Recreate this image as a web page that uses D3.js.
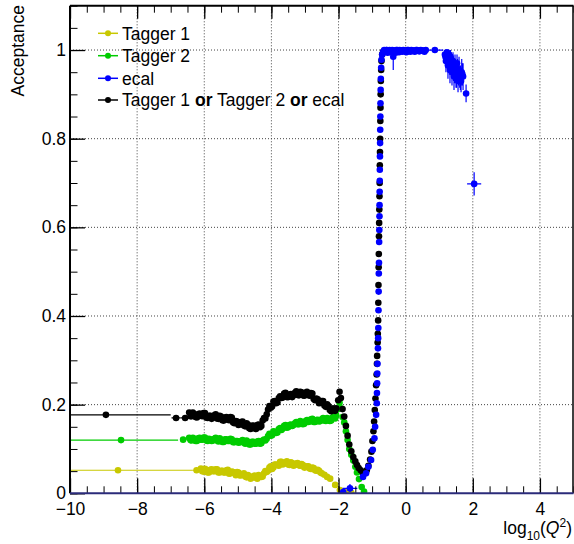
<!DOCTYPE html>
<html><head><meta charset="utf-8">
<script src="https://cdn.jsdelivr.net/npm/d3@7"></script>
<style>
body{margin:0;background:#fff}
svg{display:block}
text{font-family:"Liberation Sans",Arial,Helvetica,sans-serif}
</style>
</head><body>
<svg id="c" width="574" height="544"></svg>
<script>
// ---- axis ticks / labels ----
const xTicks = [-10, -8, -6, -4, -2, 0, 2, 4];
const xTickLabels = ["\u221210", "\u22128", "\u22126", "\u22124", "\u22122", "0", "2", "4"];
const yTicks = [0, 0.2, 0.4, 0.6, 0.8, 1];
const yTickLabels = ["0", "0.2", "0.4", "0.6", "0.8", "1"];
const seriesNames = ["Tagger 1", "Tagger 2", "ecal", "Tagger 1 or Tagger 2 or ecal"];

// ---- data: [x, y, exLow, exHigh, eyLow, eyHigh] ----
const tagger1 = [
  [-8.57,0.052,2.23,2.23],[-6.23,0.052,0.11,0.11],
  [-6.10,0.056],[-6.02,0.049],[-5.94,0.053],[-5.86,0.047],[-5.78,0.054],[-5.70,0.050],
  [-5.62,0.054],[-5.54,0.047],[-5.46,0.051],[-5.38,0.047],[-5.30,0.053],[-5.22,0.045],
  [-5.14,0.048],[-5.06,0.041],[-4.98,0.047],[-4.90,0.041],[-4.82,0.045],[-4.74,0.036],
  [-4.66,0.039],[-4.58,0.035],[-4.50,0.040],[-4.42,0.033],[-4.34,0.039],[-4.26,0.038],
  [-4.18,0.050],[-4.10,0.051],[-4.02,0.061],[-3.94,0.058],[-3.86,0.065],[-3.78,0.062],
  [-3.70,0.071],[-3.62,0.067],[-3.54,0.072],[-3.46,0.064],[-3.38,0.068],[-3.30,0.064],
  [-3.22,0.068],[-3.14,0.062],[-3.06,0.064],[-2.98,0.059],[-2.90,0.061],[-2.82,0.055],
  [-2.74,0.057],[-2.66,0.051],[-2.58,0.051],[-2.50,0.045],[-2.42,0.042],[-2.34,0.037],
  [-2.25,0.033],[-2.10,0.019],[-1.96,0.0075],[-1.86,0.004],[-1.76,0.002],[-1.62,0.001],
  [-6.06,0.050],[-5.98,0.055],[-5.90,0.047],[-5.82,0.053],[-5.74,0.050],[-5.66,0.054],
  [-5.58,0.047],[-5.50,0.051],[-5.42,0.047],[-5.34,0.052],[-5.26,0.044],[-5.18,0.049],
  [-5.10,0.045],[-5.02,0.048],[-4.94,0.040],[-4.86,0.042],[-4.78,0.038],[-4.70,0.041],
  [-4.62,0.033],[-4.54,0.038],[-4.46,0.035],[-4.38,0.041],[-4.30,0.037],[-4.22,0.045],
  [-4.14,0.048],[-4.06,0.058],[-3.98,0.055],[-3.90,0.065],[-3.82,0.064],[-3.74,0.071],
  [-3.66,0.065],[-3.58,0.069],[-3.50,0.065],[-3.42,0.070],[-3.34,0.062],[-3.26,0.067],
  [-3.18,0.063],[-3.10,0.066],[-3.02,0.058],[-2.94,0.061],[-2.86,0.056],[-2.78,0.058],
  [-2.70,0.052],[-2.62,0.053],[-2.54,0.047]
];
const tagger2 = [
  [-8.48,0.120,1.70,1.70],[-6.63,0.121,0.09,0.09],
  [-6.45,0.125],[-6.38,0.119],[-6.30,0.123],[-6.22,0.118],[-6.14,0.125],[-6.06,0.121],
  [-5.98,0.126],[-5.90,0.118],[-5.82,0.122],[-5.74,0.119],[-5.66,0.125],[-5.58,0.117],
  [-5.50,0.121],[-5.42,0.116],[-5.34,0.122],[-5.26,0.118],[-5.18,0.122],[-5.10,0.115],
  [-5.02,0.118],[-4.94,0.115],[-4.86,0.120],[-4.78,0.112],[-4.70,0.116],[-4.62,0.110],
  [-4.54,0.116],[-4.46,0.112],[-4.38,0.118],[-4.30,0.113],[-4.22,0.121],[-4.14,0.123],
  [-4.06,0.134],[-3.98,0.131],[-3.90,0.139],[-3.82,0.137],[-3.74,0.147],[-3.66,0.146],
  [-3.58,0.154],[-3.50,0.149],[-3.42,0.155],[-3.34,0.154],[-3.26,0.161],[-3.18,0.156],
  [-3.10,0.161],[-3.02,0.157],[-2.94,0.165],[-2.86,0.162],[-2.78,0.168],[-2.70,0.161],
  [-2.62,0.166],[-2.54,0.163],[-2.46,0.170],[-2.38,0.163],[-2.30,0.168],[-2.22,0.164],
  [-2.14,0.173],[-2.07,0.176],[-2.01,0.190],[-1.97,0.204],[-1.93,0.192],[-1.88,0.172],
  [-1.83,0.160],[-1.78,0.140],[-1.73,0.120],[-1.68,0.100],[-1.62,0.087],[-1.56,0.074],
  [-1.50,0.060],[-1.45,0.047],[-1.39,0.032],[-1.31,0.014],[-1.24,0.004],
  [-6.41,0.120],[-6.34,0.125],[-6.26,0.118],[-6.18,0.124],[-6.10,0.121],[-6.02,0.126],
  [-5.94,0.119],[-5.86,0.123],[-5.78,0.118],[-5.70,0.123],[-5.62,0.119],[-5.54,0.124],
  [-5.46,0.116],[-5.38,0.122],[-5.30,0.118],[-5.22,0.123],[-5.14,0.115],[-5.06,0.118],
  [-4.98,0.114],[-4.90,0.118],[-4.82,0.114],[-4.74,0.119],[-4.66,0.110],[-4.58,0.116],
  [-4.50,0.112],[-4.42,0.117],[-4.34,0.112],[-4.26,0.119],[-4.18,0.119],[-4.10,0.129],
  [-4.02,0.130],[-3.94,0.140],[-3.86,0.136],[-3.78,0.145],[-3.70,0.143],[-3.62,0.152],
  [-3.54,0.148],[-3.46,0.154],[-3.38,0.152],[-3.30,0.158],[-3.22,0.156],[-3.14,0.163],
  [-3.06,0.156],[-2.98,0.163],[-2.90,0.161],[-2.82,0.167],[-2.74,0.161],[-2.66,0.165],
  [-2.58,0.162],[-2.50,0.167],[-2.42,0.164],[-2.34,0.170],[-2.26,0.163],[-2.18,0.171],
  [-2.10,0.169]
];
const ecal = [
  [-1.86,0.003,0.08,0.08],[-1.66,0.011,0.22,0.22,0.008,0.010],
  [-1.27,0.037],[-1.18,0.045],[-1.11,0.060],[-1.03,0.075],[-0.98,0.098],[-0.93,0.124],
  [-0.91,0.150],[-0.88,0.177],[-0.86,0.203],[-0.855,0.226],[-0.85,0.248],[-0.845,0.270],
  [-0.84,0.292],[-0.825,0.327],[-0.82,0.350],[-0.815,0.373],[-0.81,0.413],[-0.805,0.455],
  [-0.80,0.496],[-0.795,0.520],[-0.79,0.567],[-0.785,0.594],[-0.78,0.625],[-0.778,0.650],
  [-0.775,0.680],[-0.772,0.705],[-0.77,0.730],[-0.766,0.760],[-0.762,0.790],[-0.758,0.820],
  [-0.754,0.850],[-0.75,0.880],[-0.745,0.910],[-0.74,0.935],[-0.73,0.960],[-0.72,0.978],
  [-0.70,0.990],[-0.67,0.996],
  [-0.64,1.0],[-0.60,0.997],[-0.56,1.0],[-0.52,0.996],[-0.48,1.0],[-0.44,0.998],[-0.40,1.0],
  [-0.37,0.985,0.02,0.02,0.030,0.015],[-0.33,0.999],[-0.28,1.0],[-0.23,0.997],[-0.18,1.0],
  [-0.13,0.998],[-0.07,1.0],[-0.01,0.997],[0.05,1.0],[0.11,0.998],[0.17,1.0],[0.24,0.999],
  [0.31,1.0],[0.38,0.998],[0.45,1.0],[0.52,0.999],[0.60,1.0],[0.87,1.0,0.25,0.25],
  [-0.62,0.996],[-0.58,1.0],[-0.54,0.994],[-0.50,0.999],[-0.46,0.995],[-0.42,0.999],
  [-0.35,0.997],[-0.30,0.994],[-0.25,1.0],[-0.20,0.995],[-0.15,0.999],[-0.10,0.996],
  [-0.04,0.999],[0.02,0.995],[0.08,1.0],[0.14,0.996],[0.20,0.999],[0.27,0.996],
  [0.34,1.0],[0.41,0.997],[0.48,0.999],[0.56,0.996],
  [1.17,0.990,0.015,0.015,0.020,0.010],[1.20,0.975,0.015,0.015,0.025,0.020],
  [1.23,0.995,0.015,0.015,0.010,0.005],[1.26,0.965,0.015,0.015,0.030,0.025],
  [1.29,0.990,0.015,0.015,0.015,0.010],[1.32,0.955,0.015,0.015,0.030,0.030],
  [1.35,0.980,0.015,0.015,0.020,0.015],[1.38,0.950,0.015,0.015,0.030,0.030],
  [1.41,0.975,0.015,0.015,0.025,0.020],[1.44,0.940,0.015,0.015,0.030,0.030],
  [1.47,0.965,0.015,0.015,0.030,0.025],[1.50,0.945,0.015,0.015,0.030,0.030],
  [1.53,0.970,0.015,0.015,0.030,0.020],[1.56,0.930,0.015,0.015,0.025,0.030],
  [1.59,0.955,0.015,0.015,0.030,0.030],[1.63,0.935,0.02,0.02,0.025,0.030],
  [1.67,0.950,0.02,0.02,0.030,0.030],[1.71,0.940,0.02,0.02,0.030,0.030],
  [1.185,0.985,0,0,0.020,0.015],[1.215,0.990,0,0,0.015,0.010],[1.245,0.980,0,0,0.020,0.015],
  [1.275,0.975,0,0,0.025,0.020],[1.305,0.970,0,0,0.025,0.020],[1.335,0.985,0,0,0.020,0.015],
  [1.365,0.965,0,0,0.025,0.020],[1.395,0.960,0,0,0.025,0.020],[1.425,0.955,0,0,0.025,0.025],
  [1.455,0.950,0,0,0.025,0.025],[1.485,0.960,0,0,0.025,0.020],[1.515,0.940,0,0,0.025,0.025],
  [1.545,0.955,0,0,0.025,0.025],[1.575,0.945,0,0,0.025,0.025],[1.61,0.940,0,0,0.025,0.025],
  [1.65,0.930,0,0,0.025,0.025],[1.69,0.945,0,0,0.025,0.025],
  [1.80,0.902,0.03,0.03,0.020,0.020],[2.04,0.698,0.21,0.21,0.026,0.026]
];
const anyTagger = [
  [-8.93,0.177,1.93,1.93],[-6.84,0.170,0.135,0.135],[-6.57,0.170,0.135,0.135],
  [-6.45,0.182],[-6.38,0.174],[-6.30,0.179],[-6.22,0.171],[-6.14,0.180],[-6.06,0.174],
  [-5.98,0.181],[-5.90,0.170],[-5.82,0.175],[-5.74,0.171],[-5.66,0.178],[-5.58,0.168],
  [-5.50,0.173],[-5.42,0.164],[-5.34,0.172],[-5.26,0.165],[-5.18,0.171],[-5.10,0.158],
  [-5.02,0.162],[-4.94,0.156],[-4.86,0.162],[-4.78,0.151],[-4.70,0.155],[-4.62,0.145],
  [-4.54,0.153],[-4.46,0.145],[-4.38,0.155],[-4.30,0.152],[-4.22,0.170],[-4.14,0.178],
  [-4.06,0.197],[-3.98,0.196],[-3.90,0.208],[-3.82,0.205],[-3.74,0.219],[-3.66,0.216],
  [-3.58,0.227],[-3.50,0.217],[-3.42,0.224],[-3.34,0.221],[-3.26,0.230],[-3.18,0.221],
  [-3.10,0.228],[-3.02,0.220],[-2.94,0.229],[-2.86,0.220],[-2.78,0.225],[-2.70,0.210],
  [-2.62,0.212],[-2.54,0.204],[-2.46,0.208],[-2.38,0.195],[-2.30,0.197],[-2.22,0.185],
  [-2.14,0.191],[-2.07,0.192],[-2.01,0.210],[-1.97,0.229],[-1.93,0.215],[-1.88,0.190],
  [-1.83,0.173],[-1.78,0.152],[-1.73,0.130],[-1.68,0.110],[-1.62,0.095],[-1.56,0.082],
  [-1.50,0.072],[-1.45,0.064],[-1.40,0.057],[-1.34,0.052],[-1.28,0.047],[-1.22,0.046],
  [-1.16,0.052],[-1.11,0.062],[-1.06,0.076],[-1.02,0.094],[-0.99,0.118],[-0.96,0.140],
  [-0.94,0.162],[-0.92,0.188],[-0.90,0.214],[-0.88,0.244],[-0.865,0.268],[-0.855,0.292],
  [-0.85,0.310],[-0.835,0.340],[-0.83,0.360],[-0.82,0.390],[-0.815,0.430],[-0.81,0.470],
  [-0.805,0.510],[-0.80,0.540],[-0.795,0.580],[-0.79,0.610],[-0.785,0.640],[-0.78,0.670],
  [-0.775,0.700],[-0.77,0.740],[-0.765,0.770],[-0.76,0.800],[-0.755,0.840],[-0.75,0.870],
  [-0.745,0.900],[-0.74,0.930],[-0.73,0.955],[-0.72,0.975],[-0.70,0.990],[-0.67,0.996],
  [-6.41,0.174],[-6.34,0.182],[-6.26,0.172],[-6.18,0.178],[-6.10,0.175],[-6.02,0.181],
  [-5.94,0.171],[-5.86,0.175],[-5.78,0.168],[-5.70,0.176],[-5.62,0.169],[-5.54,0.175],
  [-5.46,0.165],[-5.38,0.171],[-5.30,0.166],[-5.22,0.172],[-5.14,0.160],[-5.06,0.163],
  [-4.98,0.154],[-4.90,0.161],[-4.82,0.153],[-4.74,0.158],[-4.66,0.147],[-4.58,0.152],
  [-4.50,0.147],[-4.42,0.154],[-4.34,0.149],[-4.26,0.164],[-4.18,0.169],[-4.10,0.189],
  [-4.02,0.193],[-3.94,0.207],[-3.86,0.203],[-3.78,0.215],[-3.70,0.215],[-3.62,0.225],
  [-3.54,0.217],[-3.46,0.223],[-3.38,0.217],[-3.30,0.227],[-3.22,0.222],[-3.14,0.229],
  [-3.06,0.221],[-2.98,0.227],[-2.90,0.222],[-2.82,0.226],[-2.74,0.213],[-2.66,0.214],
  [-2.58,0.203],[-2.50,0.208],[-2.42,0.198],[-2.34,0.201],[-2.26,0.188],[-2.18,0.191],
  [-2.10,0.186]
];

const colors = {t1: "#c8c800", t2: "#00cc00", ecal: "#0000ff", any: "#000000"};

// ---- drawing ----
const svg = d3.select("#c");
const x = d3.scaleLinear().domain([-10, 5]).range([70, 573.5]);
const y = d3.scaleLinear().domain([0, 1.1]).range([493.3, 5.7]);
const fx0 = x(-10), fx1 = x(5), fy0 = y(0), fy1 = y(1.1);
const R = 3.3;

svg.append("defs").append("clipPath").attr("id", "clip")
  .append("rect").attr("x", fx0).attr("y", fy1).attr("width", fx1 - fx0).attr("height", fy0 - fy1);

// grid
const grid = svg.append("g");
grid.selectAll("line.gx").data(xTicks.filter(d => d > -10)).join("line")
  .attr("x1", d => x(d)).attr("x2", d => x(d)).attr("y1", fy0).attr("y2", fy1)
  .attr("stroke", "#444").attr("stroke-width", 1).attr("stroke-dasharray", "1,2");
grid.selectAll("line.gy").data(yTicks.filter(d => d > 0)).join("line")
  .attr("y1", d => y(d)).attr("y2", d => y(d)).attr("x1", fx0).attr("x2", fx1)
  .attr("stroke", "#444").attr("stroke-width", 1).attr("stroke-dasharray", "1,2");

// series
const plot = svg.append("g").attr("clip-path", "url(#clip)");
function drawSeries(data, col) {
  const g = plot.append("g");
  data.forEach(d => {
    const [px, py, exl = 0, exh = 0, eyl = 0, eyh = 0] = d;
    if (exl || exh) g.append("line").attr("x1", x(px - exl)).attr("x2", x(px + exh))
      .attr("y1", y(py)).attr("y2", y(py)).attr("stroke", col).attr("stroke-width", 1.2);
    if (eyl || eyh) g.append("line").attr("x1", x(px)).attr("x2", x(px))
      .attr("y1", y(py - eyl)).attr("y2", y(Math.min(py + eyh, 1.1))).attr("stroke", col).attr("stroke-width", 1.2);
  });
  g.selectAll("circle").data(data).join("circle")
    .attr("cx", d => x(d[0])).attr("cy", d => y(d[1])).attr("r", R).attr("fill", col);
}
drawSeries(tagger1, colors.t1);
drawSeries(tagger2, colors.t2);
drawSeries(anyTagger, colors.any);
drawSeries(ecal, colors.ecal);

// axes (ticks inside the frame)
const fontSize = 17.5;
const minorX = d3.range(-10, 5.001, 0.5);
const minorY = d3.range(0, 1.1001, 0.05);
const axB = svg.append("g").attr("transform", `translate(0,${fy0})`)
  .call(d3.axisBottom(x).tickValues(minorX).tickSize(-7).tickFormat(""));
const axBm = svg.append("g").attr("transform", `translate(0,${fy0})`)
  .call(d3.axisBottom(x).tickValues(xTicks).tickSize(-15).tickPadding(9)
    .tickFormat((d, i) => xTickLabels[i]));
const axT = svg.append("g").attr("transform", `translate(0,${fy1})`)
  .call(d3.axisTop(x).tickValues(minorX).tickSize(-7).tickFormat(""));
const axTm = svg.append("g").attr("transform", `translate(0,${fy1})`)
  .call(d3.axisTop(x).tickValues(xTicks).tickSize(-13).tickFormat(""));
const axL = svg.append("g").attr("transform", `translate(${fx0},0)`)
  .call(d3.axisLeft(y).tickValues(minorY).tickSize(-7.5).tickFormat(""));
const axLm = svg.append("g").attr("transform", `translate(${fx0},0)`)
  .call(d3.axisLeft(y).tickValues(yTicks).tickSize(-15).tickPadding(4)
    .tickFormat((d, i) => yTickLabels[i]));
[axB, axBm, axT, axTm, axL, axLm].forEach(a => {
  a.select(".domain").remove();
  a.selectAll("line").attr("stroke", "#000").attr("stroke-width", 1);
  a.selectAll("text").attr("font-size", fontSize).attr("fill", "#000")
    .attr("font-family", '"Liberation Sans",Arial,Helvetica,sans-serif');
});
axLm.selectAll("line").attr("stroke-width", 1.3);
axBm.selectAll("line").attr("stroke-width", 1.3);
axTm.selectAll("line").attr("stroke-width", 1.3);

// frame
svg.append("line").attr("x1", fx0).attr("x2", fx0).attr("y1", fy1).attr("y2", fy0)
  .attr("stroke", "#000").attr("stroke-width", 2);
svg.append("line").attr("x1", fx0).attr("x2", fx1).attr("y1", fy1).attr("y2", fy1)
  .attr("stroke", "#000").attr("stroke-width", 2);
svg.append("line").attr("x1", fx1 - 0.5).attr("x2", fx1 - 0.5).attr("y1", fy1).attr("y2", fy0)
  .attr("stroke", "#000").attr("stroke-width", 1.5);
svg.append("line").attr("x1", fx0).attr("x2", fx1).attr("y1", fy0).attr("y2", fy0)
  .attr("stroke", "#2b2b7a").attr("stroke-width", 2);

// axis titles
svg.append("text").attr("transform", `translate(24,5) rotate(-90)`)
  .attr("text-anchor", "end").attr("font-size", fontSize).text("Acceptance");
const xt = svg.append("text").attr("x", 572).attr("y", 534)
  .attr("text-anchor", "end").attr("font-size", fontSize);
xt.append("tspan").text("log");
xt.append("tspan").attr("dy", 6).attr("font-size", 12).text("10");
xt.append("tspan").attr("dy", -6).text("(");
xt.append("tspan").attr("font-style", "italic").text("Q");
xt.append("tspan").attr("dy", -7).attr("font-size", 12).text("2");
xt.append("tspan").attr("dy", 7).text(")");

// legend
const legendCols = [colors.t1, colors.t2, colors.ecal, colors.any];
const legY = [33.3, 55.7, 78.3, 100];
const leg = svg.append("g");
seriesNames.forEach((name, i) => {
  const ly = legY[i];
  leg.append("line").attr("x1", 98).attr("x2", 118).attr("y1", ly).attr("y2", ly)
    .attr("stroke", legendCols[i]).attr("stroke-width", 1.5);
  leg.append("circle").attr("cx", 108).attr("cy", ly).attr("r", 3).attr("fill", legendCols[i]);
  const t = leg.append("text").attr("x", 122).attr("y", ly).attr("dy", "0.36em")
    .attr("font-size", fontSize);
  const parts = name.split(/(\bor\b)/);
  parts.forEach(p => {
    if (!p) return;
    const ts = t.append("tspan").text(p);
    if (p === "or") ts.attr("font-weight", "bold");
  });
});
</script>
</body></html>
